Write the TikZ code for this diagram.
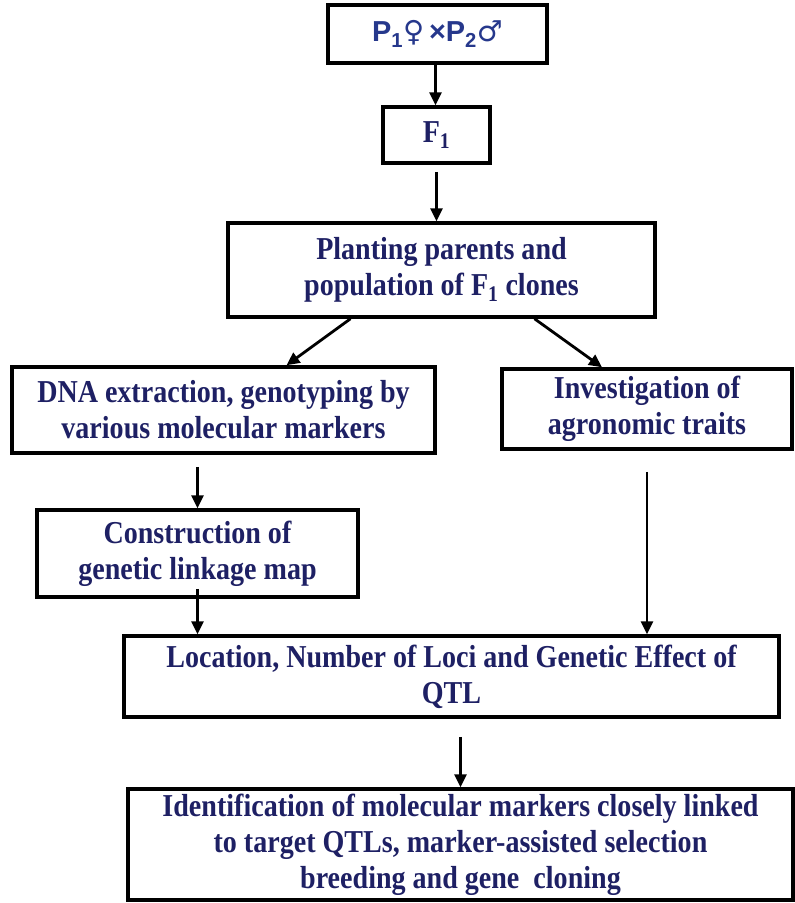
\documentclass[tikz,border=0pt]{standalone}
\usepackage{fontspec}
\setmainfont{Liberation Serif}[FakeStretch=0.88]
\newfontfamily\crossfont{Liberation Sans}
\newfontfamily\symfont{DejaVu Sans}
\usepackage{xcolor}
\usepackage{tikz}
\usetikzlibrary{arrows.meta,positioning,calc}
\definecolor{navy}{RGB}{30,32,100}
\definecolor{crossblue}{RGB}{38,56,140}

\begin{document}
\begin{tikzpicture}[
    x=1bp, y=-1bp,
    box/.style={draw, line width=3.5bp, inner sep=0pt, align=center, text=navy, font=\fontsize{32}{36}\selectfont\bfseries},
    arrow/.style={-{Triangle[length=13bp,width=12bp]}, line width=2.8bp},
]
    \useasboundingbox (0,0) rectangle (795,903);

    % Crossing and F1 generation
    \node[box, minimum width=219bp, minimum height=58bp, text=crossblue, font=\fontsize{29}{32}\selectfont\crossfont\bfseries] (parents) at (437.5,34) {P\textsubscript{1}{\symfont ♀}\,×P\textsubscript{2}{\symfont ♂}};
    \node[box, minimum width=107bp, minimum height=56bp] (fone) at (436.5,135) {F\textsubscript{1}};
    \node[box, minimum width=427bp, minimum height=94bp] (planting) at (441.5,270) {Planting parents and\\population of F\textsubscript{1} clones};

    % Two branches
    \node[box, minimum width=423bp, minimum height=86bp] (dna) at (223.5,410) {DNA extraction, genotyping by\\various molecular markers};
    \node[box, minimum width=290bp, minimum height=80bp] (invest) at (647,409) {Investigation of\\agronomic traits};
    \node[box, minimum width=321bp, minimum height=87bp] (construct) at (197.5,553.5) {Construction of\\genetic linkage map};

    % QTL results
    \node[box, minimum width=655bp, minimum height=81bp] (location) at (451.5,676.5) {Location, Number of Loci and Genetic Effect of\\QTL};
    \node[box, minimum width=665bp, minimum height=111bp] (ident) at (460.5,844.5) {Identification of molecular markers closely linked\\to target QTLs, marker-assisted selection\\breeding and gene\ \ cloning};

    % Arrows
    \draw[arrow] ([xshift=-2bp]parents.south) -- ([xshift=-2bp]parents.south |- fone.north);
    \draw[arrow] ([yshift=-7bp]fone.south) -- (fone.south |- planting.north);
    \draw[arrow] ([xshift=-91bp]planting.south) -- ([xshift=63bp]dna.north);
    \draw[arrow] ([xshift=93bp]planting.south) -- ([xshift=-45bp]invest.north);
    \draw[arrow] ([yshift=-12bp]dna.south -| construct.north) -- (construct.north);
    \draw[arrow] ([yshift=10bp]construct.south) -- (construct.south |- location.north);
    \draw[arrow] ([yshift=-21bp]invest.south) -- (invest.south |- location.north);
    \draw[arrow] ([yshift=-18bp]location.south -| ident.north) -- (ident.north);
\end{tikzpicture}
\end{document}
